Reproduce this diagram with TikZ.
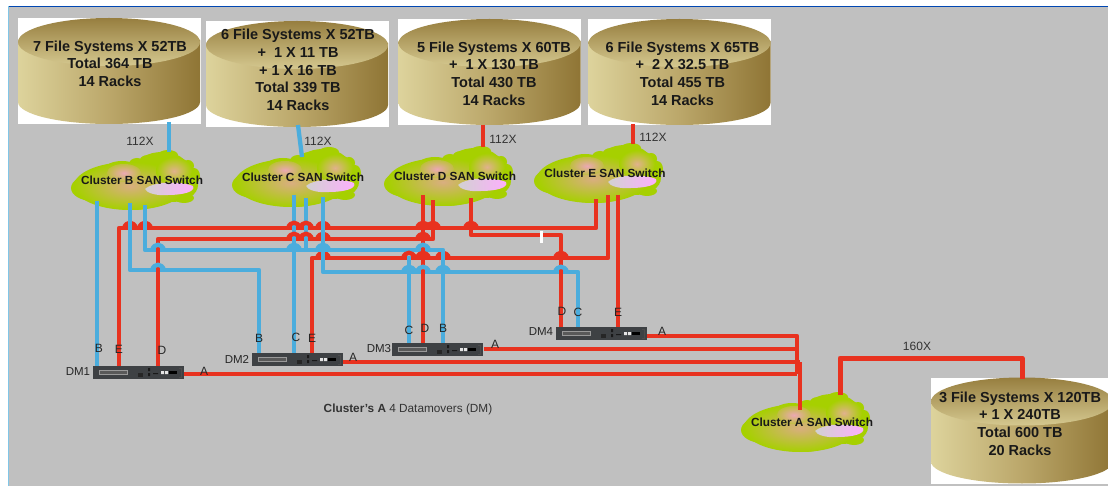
\documentclass[tikz,border=0pt]{standalone}
\usepackage{fontspec}
\setmainfont{Liberation Sans}
\usepackage{xcolor}
\usetikzlibrary{calc}
\definecolor{wirered}{HTML}{E8321F}
\definecolor{wireblue}{HTML}{4BADDD}
\definecolor{panelgray}{HTML}{C0C0C0}
\definecolor{cloudgreen}{HTML}{A6D000}
\definecolor{cloudtan}{HTML}{D9AE80}
\definecolor{cloudpink}{HTML}{EBA8B4}
\definecolor{drumlight}{HTML}{DDD39C}
\definecolor{drummid}{HTML}{BBA76A}
\definecolor{drumdark}{HTML}{8F7535}
\definecolor{dmgray}{HTML}{3E4144}
\tikzset{
  redwire/.style={draw=wirered,line width=4.3pt,line join=round},
  bluewire/.style={draw=wireblue,line width=4.3pt,line join=round},
  fsbox/.style={fill=white,minimum width=183pt,minimum height=106pt,inner sep=0pt},
  fstext/.style={align=center,text=black!90,font=\fontsize{14.5}{17.6}\selectfont\bfseries},
  cloudtext/.style={text=black!90,font=\fontsize{11.8}{14}\selectfont\bfseries},
  portlabel/.style={text=black!85,font=\fontsize{12}{14}\selectfont},
  countlabel/.style={text=black!80,font=\fontsize{12}{14}\selectfont},
}
% drum in a white box, #1 name, #2 #3 centre, #4 text position, #5 text
\newcommand{\filesystem}[5]{
  \node[fsbox] (#1) at (#2,#3) {};
  \begin{scope}[shift={(#2,#3)}]
    \shade[left color=drumlight,right color=drumdark,middle color=drummid]
      (-91,-31) -- (-91,31) arc[start angle=180,end angle=360,x radius=91pt,y radius=22pt] -- (91,-31) -- cycle;
    \shade[top color=drumdark!90!drumlight,bottom color=drumlight!75!drummid]
      (0,-29) ellipse[x radius=91pt,y radius=24pt];
  \end{scope}
  \node[fstext] (#1text) at (#4) {#5};
}
% green cloud round its label, #1 name, #2 #3 label centre, #4 letter
\newcommand{\sancloud}[4]{
  \begin{scope}[shift={(#2,#3)}]
    \foreach \cx/\cy/\rx/\ry in {-49/8/22/13,-14/7/34/20,-10/20/30/10,20/-12/26/16,30/5/26/17,26/-25/10/5,-20/-10/18/9,-60/4/8/7,-38/20/10/6,42/18/10/5,52/-4/6/8,46/-14/6/6,-5/-16/8/6,6/-20/8/5} {
      \fill[cloudgreen] (\cx,\cy) ellipse[x radius=\rx pt,y radius=\ry pt];
    }
    \shade[inner color=cloudtan,outer color=cloudgreen] (-12,6) ellipse[x radius=56pt,y radius=24pt];
    \shade[inner color=cloudpink,outer color=cloudtan!50!cloudgreen] (-18,-7) ellipse[x radius=17pt,y radius=9pt];
    \shade[inner color=cloudtan!80!pink,outer color=cloudgreen] (32,-9) ellipse[x radius=18pt,y radius=14pt];
    \shade[left color=black!18,right color=magenta!32!white] (3,9) .. controls (12,1) and (40,1) .. (51,6) .. controls (54,12) and (40,15) .. (26,15) .. controls (14,16) and (5,13) .. (3,9);
  \end{scope}
  \node[cloudtext] (#1) at (#2,#3) {Cluster #4 SAN Switch};
}
% datamover box, #1 name, #2 #3 top left corner
\newcommand{\datamover}[3]{
  \node[fill=dmgray,minimum width=91pt,minimum height=12.5pt,inner sep=0pt,anchor=north west] (#1) at (#2,#3) {};
  \begin{scope}[shift={(#2,#3)}]
    \draw[black!40,fill=black!65,line width=0.7pt] (6,4) rectangle (34,8.5);
    \fill[black!85] (45,7) rectangle (50,11);
    \fill[black!90] (55,2) rectangle (57,5) (55,7) rectangle (57,10) (60,7) rectangle (65,8);
    \fill[white!90!black] (68,5) rectangle (71,8) (72,5) rectangle (75,8);
    \fill[black] (76,5) rectangle (84,8);
    \draw[black!70,line width=0.7pt] (86,2) -- (88,2) -- (88,11) -- (86,11);
  \end{scope}
}
% hump of a wire over a crossing, #1 style, #2 #3 crossing
\newcommand{\wirehop}[3]{
  \draw[#1] (#2-6,#3) .. controls (#2-4,#3-7) and (#2+4,#3-7) .. (#2+6,#3);
}
\begin{document}
\begin{tikzpicture}[x=1pt,y=-1pt]
\useasboundingbox (0,0) rectangle (1108,486);
\fill[white] (0,0) rectangle (1108,486);
\fill[panelgray] (8,7) rectangle (1108,486);
\draw[blue!60!cyan!70!black,line width=1pt] (1108,6.5) -- (8,6.5);
\draw[wireblue!70,line width=1pt] (8,6.5) -- (8,486);

\filesystem{fsB}{109}{71}{110,63.5}{7 File Systems X 52TB\\Total 364 TB\\14 Racks}
\filesystem{fsC}{297}{74}{298,70}{6 File Systems X 52TB\\+\ \ 1 X 11 TB\\+ 1 X 16 TB\\Total 339 TB\\14 Racks}
\filesystem{fsD}{489.5}{72}{494,73.5}{5 File Systems X 60TB\\+\ \ 1 X 130 TB\\Total 430 TB\\14 Racks}
\filesystem{fsE}{679.5}{72}{682.5,73.5}{6 File Systems X 65TB\\+\ \ 2 X 32.5 TB\\Total 455 TB\\14 Racks}
\filesystem{fsA}{1022}{430.5}{1020,423.5}{3 File Systems X 120TB\\+ 1 X 240TB\\Total 600 TB\\20 Racks}

\sancloud{cloudB}{142}{180}{B}
\sancloud{cloudC}{303}{177}{C}
\sancloud{cloudD}{455}{176}{D}
\sancloud{cloudE}{605}{173}{E}
\sancloud{cloudA}{812}{422}{A}

\datamover{dm1}{93}{366}
\datamover{dm2}{252}{353}
\datamover{dm3}{392}{343}
\datamover{dm4}{556}{327}

% ports on the clouds and the datamovers
\coordinate (fsBport) at (169,122);  \coordinate (cloudBtop) at (169,152);
\coordinate (fsCport) at (298,125);  \coordinate (cloudCtop) at (302,157);
\coordinate (fsDport) at (483,125);  \coordinate (cloudDtop) at (483,147);
\coordinate (fsEport) at (633,124);  \coordinate (cloudEtop) at (633,144);
\coordinate (fsAport) at (1022,379); \coordinate (cloudAout) at (840,395);
\coordinate (cloudAin) at (800,410);
\coordinate (cloudBa) at (97,201);  \coordinate (cloudBb) at (130,203); \coordinate (cloudBc) at (145,205);
\coordinate (cloudCa) at (294,195); \coordinate (cloudCb) at (306,198); \coordinate (cloudCc) at (323,197);
\coordinate (cloudDa) at (423,195); \coordinate (cloudDb) at (433,200); \coordinate (cloudDc) at (471,198);
\coordinate (cloudEa) at (596,199); \coordinate (cloudEb) at (608,195); \coordinate (cloudEc) at (618,195);
\coordinate (dm1B) at (97,366);  \coordinate (dm1E) at (119,366); \coordinate (dm1D) at (158,366); \coordinate (dm1A) at (184,374);
\coordinate (dm2B) at (259,353); \coordinate (dm2C) at (294,353); \coordinate (dm2E) at (312,353); \coordinate (dm2A) at (343,362);
\coordinate (dm3C) at (409,343); \coordinate (dm3D) at (423,343); \coordinate (dm3B) at (443,343); \coordinate (dm3A) at (484,349);
\coordinate (dm4D) at (561,327); \coordinate (dm4C) at (578,327); \coordinate (dm4E) at (618,327); \coordinate (dm4A) at (647,336);
% horizontal runs
\coordinate (runE) at (0,228);  \coordinate (runD) at (0,239);  \coordinate (runDd) at (0,235);
\coordinate (runB) at (0,250);  \coordinate (runEb) at (0,258); \coordinate (runBb) at (0,270);
\coordinate (runC) at (0,272);  \coordinate (runCend) at (409,258);
\coordinate (busA) at (797,336); \coordinate (busAb) at (797,374); \coordinate (busAc) at (800,362); \coordinate (busAd) at (797,349);
\coordinate (linkAup) at (840,358); \coordinate (linkAdown) at (1022,358);

% red under the blue
\draw[bluewire] (fsBport) -- (cloudBtop);
\draw[bluewire] (fsCport) -- (cloudCtop);
\draw[redwire] (fsDport) -- (cloudDtop);
\draw[redwire] (fsEport) -- (cloudEtop);
\draw[redwire] (dm1E) -- (dm1E |- runE) -- (cloudEa |- runE) -- (cloudEa);
\draw[redwire] (dm1D) -- (dm1D |- runD) -- (cloudDb |- runD) -- (cloudDb);
\draw[redwire] (dm2E) -- (dm2E |- runEb) -- (cloudEb |- runEb) -- (cloudEb);
\draw[redwire] (cloudDa) -- (dm3D);
\draw[redwire] (cloudDc) -- (cloudDc |- runDd) -- (dm4D |- runDd) -- (dm4D);
\draw[redwire] (cloudEc) -- (dm4E);
\foreach \hx/\hy in {130/228,145/228,323/228,323/239,323/258,443/258} {
  \wirehop{redwire}{\hx}{\hy}
}
\draw[redwire] (dm4A) -- (busA) -- (busAb);
\draw[redwire] (dm3A) -- (busAd);
\draw[redwire] (dm2A) -- (busAc);
\draw[redwire] (dm1A) -- (busAb);
\draw[redwire] (busAc) -- (cloudAin);
\draw[redwire,line width=5pt] (cloudAout) -- (linkAup) -- (linkAdown) -- (fsAport);

\draw[bluewire] (cloudBa) -- (dm1B);
\draw[bluewire] (cloudBb) -- (cloudBb |- runBb) -- (dm2B |- runBb) -- (dm2B);
\draw[bluewire] (cloudBc) -- (cloudBc |- runB) -- (dm3B |- runB) -- (dm3B);
\draw[bluewire] (cloudCa) -- (dm2C);
\draw[bluewire] (cloudCb) -- (cloudCb |- runB);
\draw[bluewire] (cloudCc) -- (cloudCc |- runC) -- (dm4C |- runC) -- (dm4C);
\draw[bluewire] (dm3C) -- (runCend);

% blue humps, the red wire shows through below them
\foreach \hx/\hy in {158/250,158/270,423/250,423/272,561/272} {
  \draw[redwire] (\hx,\hy-3) -- (\hx,\hy+3);
  \wirehop{bluewire}{\hx}{\hy}
}
\foreach \hx/\hy in {294/250,323/250,409/272,443/272} {
  \wirehop{bluewire}{\hx}{\hy}
}
% red humps over blue
\foreach \hx/\hy in {294/228,306/228,294/239,306/239,409/258} {
  \draw[bluewire] (\hx,\hy-2) -- (\hx,\hy+2);
  \wirehop{redwire}{\hx}{\hy}
}
\foreach \hx/\hy in {423/228,433/228,471/228,423/239,423/258,561/258} {
  \wirehop{redwire,fill=wirered}{\hx}{\hy}
}
\fill[white] (539.5,231) rectangle (542.5,243);

\node[countlabel] (countB) at (140,141) {112X};
\node[countlabel] (countC) at (318,141) {112X};
\node[countlabel] (countD) at (503,139) {112X};
\node[countlabel] (countE) at (653,137) {112X};
\node[countlabel] (countA) at (917,346) {160X};

\node[portlabel,font=\fontsize{11.5}{14}\selectfont] (labelDMa) at (78,372) {DM1};
\node[portlabel,font=\fontsize{11.5}{14}\selectfont] (labelDMb) at (237,359) {DM2};
\node[portlabel,font=\fontsize{11.5}{14}\selectfont] (labelDMc) at (379,349) {DM3};
\node[portlabel,font=\fontsize{11.5}{14}\selectfont] (labelDMd) at (541,332) {DM4};
\foreach \px/\py/\pt in {99/348/B,119/349/E,162/350/D,204/371/A,259/338/B,296/337/C,312/338/E,353/357/A,409/330/C,425/328/D,443/328/B,495/344/A,562/311/D,578/312/C,618/312/E,662/331/A} {
  \node[portlabel] at (\px,\py) {\pt};
}
\node[countlabel,font=\fontsize{11.8}{13}\selectfont] (caption) at (408,409) {\textbf{Cluster's A} 4 Datamovers (DM)};
\end{tikzpicture}
\end{document}
